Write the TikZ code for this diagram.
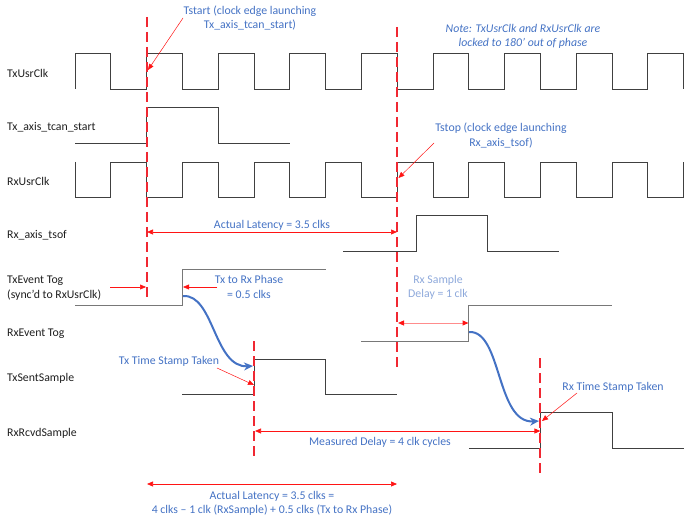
\documentclass[tikz,border=0pt]{standalone}
\usepackage{fontspec}
\setmainfont{Carlito}
\usetikzlibrary{arrows.meta}
\definecolor{blueT}{RGB}{68,114,196}
\definecolor{paleBlue}{RGB}{142,169,219}
\definecolor{redA}{RGB}{255,20,20}
\definecolor{redD}{RGB}{240,40,50}
\definecolor{paleRed}{RGB}{255,140,140}
\definecolor{waveC}{RGB}{64,64,64}
\definecolor{waveG}{RGB}{120,120,120}
\definecolor{labelC}{RGB}{30,30,30}
\begin{document}
\begin{tikzpicture}[x=1pt,y=-1pt,
  font=\fontsize{11.8}{14.5}\selectfont,
  lbl/.style={anchor=west,text=labelC,inner sep=0pt,align=left},
  note/.style={text=blueT,inner sep=0pt,align=center},
  pnote/.style={text=paleBlue,inner sep=0pt,align=center},
  wave/.style={draw=waveC,line width=0.9pt},
  waveg/.style={draw=waveG,line width=1pt},
  mark line/.style={draw=redD,line width=2pt,dash pattern=on 10pt off 5pt},
  ptr/.style={draw=redA,line width=0.5pt,-{Triangle[length=6pt,width=5pt]}},
  dim/.style={draw=redA,line width=0.7pt,{Triangle[length=6pt,width=5pt]}-{Triangle[length=6pt,width=5pt]}},
  pdim/.style={draw=paleRed,line width=1pt,{Triangle[length=6pt,width=5pt,color=redA]}-{Triangle[length=6pt,width=5pt,color=redA]}},
  hop/.style={draw=blueT,line width=2pt,-{Stealth[length=9pt,width=8pt]}}
]
\useasboundingbox (0,0) rectangle (686,524);
\def\h{35.8}
% ---- signal labels
\node[lbl] (lTxClk) at (7,73) {TxUsrClk};
\node[lbl] (lTxStart) at (7,127) {Tx\_axis\_tcan\_start};
\node[lbl] (lRxClk) at (7,181) {RxUsrClk};
\node[lbl] (lTsof) at (7,235) {Rx\_axis\_tsof};
\node[lbl] (lTxEv) at (7,288) {TxEvent Tog\\(sync’d to RxUsrClk)};
\node[lbl] (lRxEv) at (7,334) {RxEvent Tog};
\node[lbl] (lTxS) at (7,378) {TxSentSample};
\node[lbl] (lRxS) at (7,433) {RxRcvdSample};
% ---- waveforms
\draw[wave] (75,89) \foreach \k in {1,...,8}{ -- ++(0,-36) -- ++(\h,0) -- ++(0,36) -- ++(\h,0)} -- ++(0,-36) -- ++(\h,0) -- ++(0,36);
\draw[wave] (75,162) \foreach \k in {1,...,8}{ -- ++(0,35) -- ++(\h,0) -- ++(0,-35) -- ++(\h,0)} -- ++(0,35) -- ++(\h,0) -- ++(0,-35);
\draw[wave] (75,143) -- (146.6,143) -- (146.6,107) -- (218.2,107) -- (218.2,143) -- (289.8,143);
\draw[wave] (343,251) -- (416,251) -- (416,215) -- (487.7,215) -- (487.7,251) -- (559,251);
\draw[waveg] (75,305) -- (182.4,305) -- (182.4,269) -- (325.6,269);
\draw[waveg] (361.4,341) -- (468.8,341) -- (468.8,305) -- (612,305);
\draw[wave] (182.4,394) -- (254,394) -- (254,359) -- (325.6,359) -- (325.6,394) -- (397.2,394);
\draw[wave] (468.8,448) -- (540.4,448) -- (540.4,412) -- (612,412) -- (612,448) -- (683.6,448);
% ---- dashed markers
\coordinate (m1t) at (146.6,17);  \coordinate (m1b) at (146.6,297);
\coordinate (m2t) at (397.2,27);  \coordinate (m2b) at (397.2,370);
\coordinate (m3t) at (254,341);   \coordinate (m3b) at (254,459);
\coordinate (m4t) at (540.4,358); \coordinate (m4b) at (540.4,477);
\draw[mark line] (m1t) -- (m1b);
\draw[mark line] (m2t) -- (m2b);
\draw[mark line] (m3t) -- (m3b);
\draw[mark line] (m4t) -- (m4b);
% ---- annotations
\node[note] (tstart) at (250,18) {Tstart (clock edge launching\\Tx\_axis\_tcan\_start)};
\node[note,font=\fontsize{11.8}{14.5}\selectfont\itshape] (noteTxt) at (523,36.5) {Note: TxUsrClk and RxUsrClk are\\locked to 180' out of phase};
\node[note] (tstop) at (501,135.5) {Tstop (clock edge launching\\Rx\_axis\_tsof)};
\coordinate (tstartFrom) at (183,18); \coordinate (tstartTo) at (148,70);
\draw[ptr] (tstartFrom) -- (tstartTo);
\coordinate (tstopFrom) at (434,143); \coordinate (tstopTo) at (398.5,178);
\draw[ptr] (tstopFrom) -- (tstopTo);
% actual latency (top)
\coordinate (alA) at (147,232); \coordinate (alB) at (397,232);
\draw[dim] (alA) -- (alB);
\node[note] (alTxt) at (272,225) {Actual Latency = 3.5 clks};
% Tx to Rx phase
\coordinate (phL0) at (110,287); \coordinate (phL1) at (146,287);
\coordinate (phR0) at (217,287); \coordinate (phR1) at (183,287);
\draw[ptr] (phL0) -- (phL1);
\draw[ptr] (phR0) -- (phR1);
\node[note] (phTxt) at (249,287) {Tx to Rx Phase\\= 0.5 clks};
% Rx sample delay
\coordinate (sdA) at (398,323); \coordinate (sdB) at (468.5,323);
\draw[pdim] (sdA) -- (sdB);
\node[pnote] (sdTxt) at (438,287.5) {Rx Sample\\Delay = 1 clk};
% blue hops
\coordinate (h1a) at (183,296); \coordinate (h1b) at (253,366);
\draw[hop] (h1a) .. controls (214,294) and (214,368) .. (h1b);
\coordinate (h2a) at (469,332); \coordinate (h2b) at (539,421);
\draw[hop] (h2a) .. controls (502,330) and (496,424) .. (h2b);
% time stamps
\node[note] (txTS) at (169,361) {Tx Time Stamp Taken};
\coordinate (txTSfrom) at (217,368); \coordinate (txTSto) at (254,385);
\draw[ptr] (txTSfrom) -- (txTSto);
\node[note] (rxTS) at (613,387) {Rx Time Stamp Taken};
\coordinate (rxTSfrom) at (577,393); \coordinate (rxTSto) at (542,421);
\draw[ptr] (rxTSfrom) -- (rxTSto);
% measured delay
\coordinate (mdA) at (255,431); \coordinate (mdB) at (540.4,431);
\draw[dim] (mdA) -- (mdB);
\node[note] (mdTxt) at (380,442) {Measured Delay = 4 clk cycles};
% actual latency (bottom)
\coordinate (abA) at (147,484); \coordinate (abB) at (397,484);
\draw[dim] (abA) -- (abB);
\node[note] (abTxt) at (272,503.5) {Actual Latency = 3.5 clks =\\4 clks -- 1 clk (RxSample) + 0.5 clks (Tx to Rx Phase)};
\end{tikzpicture}
\end{document}
